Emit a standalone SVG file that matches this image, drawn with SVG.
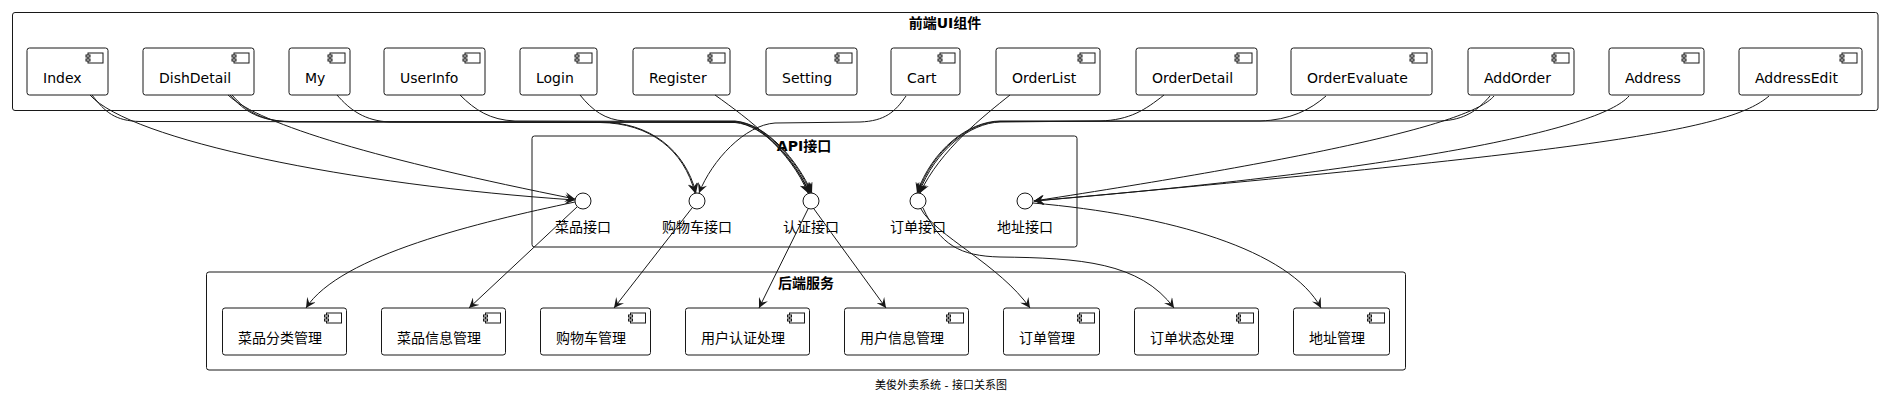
<svg xmlns="http://www.w3.org/2000/svg" width="1883" height="404" viewBox="0 0 1883 404">
<style>
.frame{fill:#fff;stroke:#181818;stroke-width:1}
.box{fill:#fff;stroke:#181818;stroke-width:1}
.ico{fill:#fff;stroke:#181818;stroke-width:1}
.lbl{font-family:"DejaVu Sans","Noto Sans CJK SC",sans-serif;font-size:14px;fill:#000}
.ttl{font-family:"DejaVu Sans","Noto Sans CJK SC",sans-serif;font-size:14px;font-weight:bold;fill:#000;text-anchor:middle}
.ilbl{font-family:"DejaVu Sans","Noto Sans CJK SC",sans-serif;font-size:14px;fill:#000;text-anchor:middle}
.cap{font-family:"DejaVu Sans","Noto Sans CJK SC",sans-serif;font-size:11px;fill:#000;text-anchor:middle}
.edge{fill:none;stroke:#181818;stroke-width:1;marker-end:url(#arr)}
.ifc{fill:#fff;stroke:#181818;stroke-width:1}
</style>
<defs>
<marker id="arr" markerUnits="userSpaceOnUse" markerWidth="11" markerHeight="10" refX="10" refY="5" orient="auto">
<path d="M0,0 L10,5 L0,10 L4,5 Z" fill="#181818"/>
</marker>
<g id="icon">
<rect x="-20" y="5" width="15" height="10" class="ico"/>
<rect x="-22" y="7" width="4" height="2" class="ico"/>
<rect x="-22" y="11" width="4" height="2" class="ico"/>
</g>
</defs>
<rect width="1883" height="404" fill="#fff"/>

<g id="frame-frontend">
<rect class="frame" x="12.5" y="12.5" width="1865.5" height="98" rx="2.5"/>
<text class="ttl" x="945" y="28">前端UI组件</text>
</g>
<g id="frame-api">
<rect class="frame" x="532" y="136" width="545" height="111" rx="2.5"/>
<text class="ttl" x="804" y="151">API接口</text>
</g>
<g id="frame-backend">
<rect class="frame" x="206.5" y="272" width="1199" height="98" rx="2.5"/>
<text class="ttl" x="806" y="288">后端服务</text>
</g>

<g id="Index"><rect class="box" x="27" y="48" width="81" height="47" rx="2.5"/><use href="#icon" x="108" y="48"/><text class="lbl" x="43" y="83">Index</text></g>
<g id="DishDetail"><rect class="box" x="143" y="48" width="111" height="47" rx="2.5"/><use href="#icon" x="254" y="48"/><text class="lbl" x="159" y="83">DishDetail</text></g>
<g id="My"><rect class="box" x="289" y="48" width="61" height="47" rx="2.5"/><use href="#icon" x="350" y="48"/><text class="lbl" x="305" y="83">My</text></g>
<g id="UserInfo"><rect class="box" x="384" y="48" width="101" height="47" rx="2.5"/><use href="#icon" x="485" y="48"/><text class="lbl" x="400" y="83">UserInfo</text></g>
<g id="Login"><rect class="box" x="520" y="48" width="77" height="47" rx="2.5"/><use href="#icon" x="597" y="48"/><text class="lbl" x="536" y="83">Login</text></g>
<g id="Register"><rect class="box" x="633" y="48" width="97" height="47" rx="2.5"/><use href="#icon" x="730" y="48"/><text class="lbl" x="649" y="83">Register</text></g>
<g id="Setting"><rect class="box" x="766" y="48" width="91" height="47" rx="2.5"/><use href="#icon" x="857" y="48"/><text class="lbl" x="782" y="83">Setting</text></g>
<g id="Cart"><rect class="box" x="891" y="48" width="69" height="47" rx="2.5"/><use href="#icon" x="960" y="48"/><text class="lbl" x="907" y="83">Cart</text></g>
<g id="OrderList"><rect class="box" x="996" y="48" width="104" height="47" rx="2.5"/><use href="#icon" x="1100" y="48"/><text class="lbl" x="1012" y="83">OrderList</text></g>
<g id="OrderDetail"><rect class="box" x="1136" y="48" width="121" height="47" rx="2.5"/><use href="#icon" x="1257" y="48"/><text class="lbl" x="1152" y="83">OrderDetail</text></g>
<g id="OrderEvaluate"><rect class="box" x="1291" y="48" width="141" height="47" rx="2.5"/><use href="#icon" x="1432" y="48"/><text class="lbl" x="1307" y="83">OrderEvaluate</text></g>
<g id="AddOrder"><rect class="box" x="1468" y="48" width="106" height="47" rx="2.5"/><use href="#icon" x="1574" y="48"/><text class="lbl" x="1484" y="83">AddOrder</text></g>
<g id="Address"><rect class="box" x="1609" y="48" width="95" height="47" rx="2.5"/><use href="#icon" x="1704" y="48"/><text class="lbl" x="1625" y="83">Address</text></g>
<g id="AddressEdit"><rect class="box" x="1739" y="48" width="123" height="47" rx="2.5"/><use href="#icon" x="1862" y="48"/><text class="lbl" x="1755" y="83">AddressEdit</text></g>

<g id="DishAPI"><circle class="ifc" cx="583" cy="201" r="8"/><text class="ilbl" x="583" y="232">菜品接口</text></g>
<g id="CartAPI"><circle class="ifc" cx="697" cy="201" r="8"/><text class="ilbl" x="697" y="232">购物车接口</text></g>
<g id="AuthAPI"><circle class="ifc" cx="811" cy="201" r="8"/><text class="ilbl" x="811" y="232">认证接口</text></g>
<g id="OrderAPI"><circle class="ifc" cx="918" cy="201" r="8"/><text class="ilbl" x="918" y="232">订单接口</text></g>
<g id="AddressAPI"><circle class="ifc" cx="1025" cy="201" r="8"/><text class="ilbl" x="1025" y="232">地址接口</text></g>

<g id="DishCategory"><rect class="box" x="222.5" y="308" width="124" height="47" rx="2.5"/><use href="#icon" x="346.5" y="308"/><text class="lbl" x="238" y="343">菜品分类管理</text></g>
<g id="DishInfo"><rect class="box" x="381.5" y="308" width="124" height="47" rx="2.5"/><use href="#icon" x="505.5" y="308"/><text class="lbl" x="397" y="343">菜品信息管理</text></g>
<g id="CartService"><rect class="box" x="540.5" y="308" width="110" height="47" rx="2.5"/><use href="#icon" x="650.5" y="308"/><text class="lbl" x="556" y="343">购物车管理</text></g>
<g id="AuthService"><rect class="box" x="685.5" y="308" width="124" height="47" rx="2.5"/><use href="#icon" x="809.5" y="308"/><text class="lbl" x="701" y="343">用户认证处理</text></g>
<g id="UserService"><rect class="box" x="844.5" y="308" width="124" height="47" rx="2.5"/><use href="#icon" x="968.5" y="308"/><text class="lbl" x="860" y="343">用户信息管理</text></g>
<g id="OrderService"><rect class="box" x="1003.5" y="308" width="96" height="47" rx="2.5"/><use href="#icon" x="1099.5" y="308"/><text class="lbl" x="1019" y="343">订单管理</text></g>
<g id="OrderStatus"><rect class="box" x="1134.5" y="308" width="124" height="47" rx="2.5"/><use href="#icon" x="1258.5" y="308"/><text class="lbl" x="1150" y="343">订单状态处理</text></g>
<g id="AddressService"><rect class="box" x="1293.5" y="308" width="96" height="47" rx="2.5"/><use href="#icon" x="1389.5" y="308"/><text class="lbl" x="1309" y="343">地址管理</text></g>

<g id="connectors">
<path class="edge" d="M90,95 C130,140 350,185 575,200"/>
<path class="edge" d="M228,95 C260,125 380,160 575,199"/>
<path class="edge" d="M92,95 C105,112 115,121 140,121.5 L600,122 C650,122 685,150 696,193"/>
<path class="edge" d="M230,95 C245,112 260,121 290,121.5 L600,122.5 C650,123 684,150 695,193"/>
<path class="edge" d="M232,95 C247,112 262,121 292,122 L735,122 C765,125 795,160 809,193"/>
<path class="edge" d="M337,95 C350,110 365,121 390,122 L735,122.5 C764,125 794,160 810,193"/>
<path class="edge" d="M460,95 C475,110 490,120 515,121 L735,121.5 C766,124 796,160 811,193"/>
<path class="edge" d="M580,95 C592,110 605,120 625,121 L735,121 C767,124 797,160 812,193"/>
<path class="edge" d="M715,95 C750,120 790,150 808,193"/>
<path class="edge" d="M906,96 C895,112 885,121 860,122 L775,123 C745,125 712,160 699,193"/>
<path class="edge" d="M1010,95 C985,115 940,150 920,193"/>
<path class="edge" d="M1164,95 C1145,110 1130,120 1100,121 L1000,122 C970,123 935,150 919,193"/>
<path class="edge" d="M1326,96 C1310,110 1290,120 1260,121 L1000,121.5 C969,122 933,150 918,193"/>
<path class="edge" d="M1490,96 C1478,110 1465,120 1440,121 L1000,121 C968,121.5 932,150 917,193"/>
<path class="edge" d="M1494,96 C1470,125 1300,160 1034,201"/>
<path class="edge" d="M1629,96 C1600,130 1400,170 1034,201"/>
<path class="edge" d="M1769,96 C1730,130 1600,150 1034,201"/>
<path class="edge" d="M575,202 C480,222 340,255 306,308"/>
<path class="edge" d="M577,207 L469,308"/>
<path class="edge" d="M692,208 L614,308"/>
<path class="edge" d="M808,209 L759,308"/>
<path class="edge" d="M814,209 L886,308"/>
<path class="edge" d="M921,209 C935,235 1000,265 1030,308"/>
<path class="edge" d="M923,208 C940,245 960,256 1000,257 C1080,258 1140,262 1174,308"/>
<path class="edge" d="M1033,203 C1170,215 1290,250 1321,308"/>
</g>

<text class="cap" x="941" y="389">美俊外卖系统 - 接口关系图</text>
</svg>
